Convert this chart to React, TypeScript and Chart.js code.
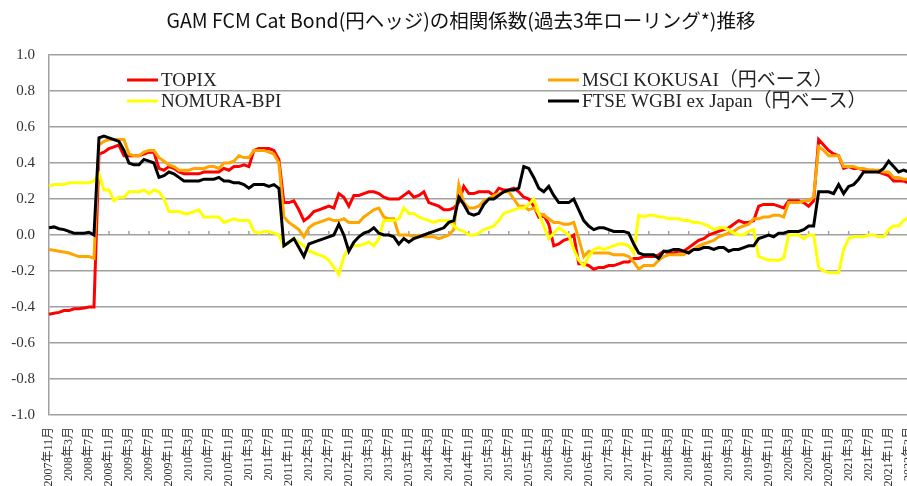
import React, { useEffect, useRef } from "react";
import { Chart, registerables } from "chart.js";
Chart.register(...registerables);

const TITLE = "GAM FCM Cat Bond(円ヘッジ)の相関係数(過去3年ローリング*)推移";
const START_YEAR = 2007;
const START_MONTH = 11;
const N_MONTHS = 173;
const MONTHS: string[] = [];
for (let i = 0; i < N_MONTHS; i++) {
  const m = START_MONTH - 1 + i;
  MONTHS.push(`${START_YEAR + Math.floor(m / 12)}年${(m % 12) + 1}月`);
}
const TICK_EVERY = 4;
const Y_TICKS = [-1.0, -0.8, -0.6, -0.4, -0.2, 0.0, 0.2, 0.4, 0.6, 0.8, 1.0];

const TOPIX = [
  -0.44, -0.435, -0.43, -0.42, -0.42, -0.41, -0.41, -0.405, -0.4, -0.4,
  0.45, 0.46, 0.48, 0.49, 0.5, 0.44, 0.44, 0.44, 0.44, 0.45,
  0.46, 0.46, 0.37, 0.36, 0.38, 0.37, 0.35, 0.34, 0.34, 0.34,
  0.34, 0.35, 0.35, 0.35, 0.35, 0.37, 0.36, 0.38, 0.38, 0.39,
  0.38, 0.47, 0.48, 0.48, 0.48, 0.47, 0.42, 0.18, 0.18, 0.19,
  0.14, 0.08, 0.1, 0.13, 0.14, 0.15, 0.16, 0.15, 0.23, 0.21,
  0.16, 0.22, 0.22, 0.23, 0.24, 0.24, 0.23, 0.21, 0.2, 0.2,
  0.2, 0.22, 0.24, 0.21, 0.22, 0.24, 0.18, 0.17, 0.16, 0.14,
  0.14, 0.15, 0.18, 0.27, 0.23, 0.23, 0.24, 0.24, 0.24, 0.22,
  0.26, 0.25, 0.25, 0.26, 0.24, 0.21, 0.2, 0.16, 0.1, 0.11,
  0.06, -0.06, -0.05, -0.03, -0.02, 0.0, -0.16, -0.16, -0.17, -0.19,
  -0.18, -0.18, -0.17, -0.17, -0.16, -0.15, -0.15, -0.13, -0.13, -0.12,
  -0.12, -0.12, -0.11, -0.09, -0.1, -0.1, -0.09, -0.09, -0.07, -0.05,
  -0.03, -0.02, 0.0, 0.01, 0.02, 0.03, 0.04, 0.06, 0.08, 0.07,
  0.07, 0.08, 0.16, 0.17, 0.17, 0.17, 0.16, 0.15, 0.19, 0.19,
  0.19, 0.18, 0.16, 0.19, 0.53, 0.5, 0.47, 0.45, 0.44, 0.37,
  0.38, 0.37, 0.37, 0.36, 0.36, 0.36, 0.35, 0.34, 0.33, 0.3,
  0.3, 0.3, 0.29,
];

const MSCI = [
  -0.08, -0.085, -0.09, -0.095, -0.1, -0.11, -0.12, -0.12, -0.12, -0.13,
  0.5, 0.52, 0.53, 0.53, 0.53, 0.53, 0.45, 0.44, 0.44, 0.46,
  0.47, 0.47, 0.43, 0.41, 0.39, 0.38, 0.36, 0.36, 0.36, 0.37,
  0.37, 0.37, 0.38, 0.38, 0.37, 0.4, 0.4, 0.41, 0.44, 0.43,
  0.43, 0.47, 0.47, 0.47, 0.46, 0.45, 0.4, 0.1, 0.07, 0.05,
  0.03, -0.01, 0.04, 0.06, 0.07, 0.08, 0.09, 0.08, 0.08, 0.09,
  0.07, 0.07, 0.07, 0.1, 0.12, 0.14, 0.15, 0.1, 0.09, 0.09,
  0.0, 0.0, 0.0, -0.01, 0.0, -0.01, -0.01, -0.01, -0.02, -0.01,
  0.0, 0.03, 0.28, 0.18, 0.15, 0.15, 0.16, 0.19, 0.2, 0.22,
  0.23, 0.24, 0.24, 0.2, 0.16, 0.16, 0.14, 0.15, 0.12, 0.11,
  0.09, 0.07, 0.07, 0.06, 0.06, 0.07, -0.02, -0.12, -0.09, -0.1,
  -0.1, -0.1, -0.1, -0.11, -0.11, -0.11, -0.12, -0.15, -0.19, -0.17,
  -0.17, -0.17, -0.14, -0.12, -0.11, -0.11, -0.11, -0.11, -0.09, -0.08,
  -0.06, -0.05, -0.04, -0.03, -0.01, 0.0, 0.01, 0.02, 0.04, 0.05,
  0.06, 0.09, 0.09, 0.1, 0.1, 0.11, 0.11, 0.1, 0.18, 0.18,
  0.18, 0.19, 0.19, 0.21, 0.49, 0.47, 0.44, 0.44, 0.44, 0.38,
  0.38, 0.38, 0.37, 0.37, 0.36, 0.36, 0.36, 0.35, 0.35, 0.32,
  0.32, 0.31, 0.31,
];

const NOMURA = [
  0.27, 0.28, 0.28, 0.28, 0.29, 0.29, 0.29, 0.29, 0.29, 0.3,
  0.34, 0.25, 0.25, 0.19, 0.21, 0.21, 0.24, 0.24, 0.24, 0.25,
  0.23, 0.25, 0.24, 0.2, 0.13, 0.13, 0.13, 0.12, 0.12, 0.13,
  0.14, 0.1, 0.1, 0.1, 0.1, 0.07, 0.08, 0.09, 0.08, 0.08,
  0.08, 0.02, 0.01, 0.02, 0.02, 0.01, 0.0, -0.06, -0.04, -0.02,
  -0.04, -0.06, -0.09, -0.1, -0.11, -0.12, -0.14, -0.18, -0.22, -0.12,
  -0.07, -0.06, -0.06, -0.05, -0.04, -0.06, -0.02, 0.08, 0.08, 0.08,
  0.09, 0.15, 0.12, 0.12, 0.1, 0.09, 0.08, 0.07, 0.08, 0.08,
  0.08, 0.05, 0.03, 0.02, 0.0, 0.0, 0.01, 0.03, 0.04, 0.05,
  0.08, 0.12, 0.13, 0.14, 0.15, 0.15, 0.17, 0.2, 0.12, 0.05,
  -0.02, 0.01, 0.04, 0.02, 0.0, -0.08, -0.14, -0.17, -0.12, -0.08,
  -0.07, -0.08, -0.07, -0.06, -0.05, -0.05, -0.06, -0.1, 0.11, 0.1,
  0.11, 0.11, 0.1, 0.1, 0.09, 0.09, 0.09, 0.08, 0.08, 0.07,
  0.07, 0.06, 0.05, 0.03, 0.04, 0.04, 0.03, 0.01, 0.0, 0.0,
  0.02, 0.03, -0.12, -0.13, -0.14, -0.14, -0.14, -0.13, 0.0, 0.0,
  0.0, -0.02, 0.0, 0.0, -0.18, -0.2, -0.21, -0.21, -0.21, -0.08,
  -0.02, -0.01, -0.01, -0.01, 0.0, 0.0, -0.01, -0.01, 0.03, 0.05,
  0.05, 0.08, 0.1,
];

const FTSE = [
  0.04, 0.045, 0.035, 0.03, 0.02, 0.01, 0.01, 0.01, 0.015, 0.0,
  0.54, 0.55, 0.54, 0.53, 0.52, 0.47, 0.4, 0.39, 0.39, 0.42,
  0.41, 0.4, 0.32, 0.33, 0.35, 0.34, 0.32, 0.3, 0.3, 0.3,
  0.3, 0.31, 0.31, 0.31, 0.32, 0.3, 0.3, 0.29, 0.29, 0.28,
  0.26, 0.28, 0.28, 0.28, 0.27, 0.28, 0.26, -0.06, -0.04, -0.02,
  -0.07, -0.12, -0.05, -0.04, -0.03, -0.02, -0.01, 0.0, 0.06, 0.0,
  -0.09, -0.04, -0.01, 0.01, 0.02, 0.04, 0.01, 0.0, 0.0, -0.01,
  -0.05, -0.02, -0.04, -0.02, -0.01, 0.0, 0.01, 0.02, 0.03, 0.04,
  0.07, 0.08, 0.21, 0.17, 0.12, 0.11, 0.12, 0.17, 0.2, 0.2,
  0.22, 0.24, 0.25, 0.25, 0.26, 0.38, 0.37, 0.32, 0.26, 0.24,
  0.27, 0.22, 0.18, 0.18, 0.18, 0.2, 0.14, 0.08, 0.05, 0.03,
  0.04, 0.04, 0.03, 0.02, 0.02, 0.02, 0.01, -0.05, -0.1, -0.11,
  -0.11, -0.11, -0.13, -0.09, -0.09, -0.08, -0.08, -0.09, -0.1, -0.08,
  -0.08, -0.07, -0.07, -0.08, -0.07, -0.07, -0.09, -0.08, -0.08, -0.07,
  -0.06, -0.06, -0.02, -0.01, 0.0, -0.01, 0.01, 0.01, 0.02, 0.02,
  0.02, 0.03, 0.05, 0.05, 0.24, 0.24, 0.24, 0.23, 0.28, 0.23,
  0.27, 0.28, 0.31, 0.35, 0.35, 0.35, 0.35, 0.37, 0.41, 0.38,
  0.35, 0.36, 0.35,
];

const SERIES_LABELS = [
  "TOPIX",
  "MSCI KOKUSAI（円ベース）",
  "NOMURA-BPI",
  "FTSE WGBI ex Japan（円ベース）",
];
const SERIES_COLORS = ["#ff0000", "#ffa500", "#ffff00", "#000000"];

const GRID = "#a0a0a0";
const SERIF = '"Liberation Serif", "Noto Sans CJK JP", serif';
Chart.defaults.font.family = SERIF;

export default function App() {
  const ref = useRef<HTMLCanvasElement | null>(null);
  useEffect(() => {
    if (!ref.current) return;
    const extras = {
      id: "extras",
      beforeDatasetsDraw(chart: any) {
        const { ctx, chartArea } = chart;
        const xs = chart.scales.x;
        const ys = chart.scales.y;
        const y0 = ys.getPixelForValue(0);
        ctx.save();
        ctx.strokeStyle = GRID;
        ctx.lineWidth = 1.5;
        ctx.beginPath();
        for (let i = 0; i < MONTHS.length; i += TICK_EVERY) {
          const x = xs.getPixelForValue(i);
          if (x < chartArea.left + 2) continue;
          ctx.moveTo(x, y0);
          ctx.lineTo(x, y0 - 4);
        }
        ctx.stroke();
        ctx.restore();
      },
      afterDraw(chart: any) {
        const { ctx } = chart;
        ctx.save();
        ctx.font = '19.5px "Noto Sans CJK JP", sans-serif';
        ctx.fillStyle = "#111";
        ctx.textAlign = "center";
        ctx.textBaseline = "middle";
        ctx.fillText(TITLE, 461, 21);
        const pos = [
          [127, 80],
          [548, 80],
          [127, 101],
          [548, 101],
        ];
        ctx.font = `19px ${SERIF}`;
        ctx.textAlign = "left";
        chart.data.datasets.forEach((ds: any, i: number) => {
          const [x, y] = pos[i];
          ctx.strokeStyle = ds.borderColor;
          ctx.lineWidth = 3;
          ctx.beginPath();
          ctx.moveTo(x, y);
          ctx.lineTo(x + 31, y);
          ctx.stroke();
          ctx.fillStyle = "#222";
          ctx.fillText(ds.label, x + 34, y + 1);
        });
        ctx.restore();
      },
    };
    const series = [TOPIX, MSCI, NOMURA, FTSE];
    const chart = new Chart(ref.current, {
      type: "line",
      data: {
        labels: MONTHS,
        datasets: series.map((d, i) => ({
          label: SERIES_LABELS[i],
          data: d,
          borderColor: SERIES_COLORS[i],
          backgroundColor: SERIES_COLORS[i],
          borderWidth: 3,
          pointRadius: 0,
          tension: 0,
          fill: false,
          order: 4 - i,
        })),
      },
      options: {
        animation: false,
        responsive: true,
        maintainAspectRatio: false,
        layout: { padding: { top: 55, left: 0, right: 0, bottom: 0 } },
        plugins: {
          legend: { display: false },
          title: { display: false },
          tooltip: { enabled: false },
        },
        scales: {
          x: {
            type: "category",
            grid: { display: false, drawTicks: false },
            border: { display: false },
            ticks: {
              autoSkip: false,
              minRotation: 90,
              maxRotation: 90,
              padding: 12,
              color: "#333",
              font: { family: SERIF, size: 12 },
              callback: function (this: any, v: any, i: number) {
                return i % TICK_EVERY === 0 ? MONTHS[i] : null;
              },
            },
            afterFit: (s: any) => {
              s.height = 71;
            },
          },
          y: {
            min: -1,
            max: 1,
            afterBuildTicks: (s: any) => {
              s.ticks = Y_TICKS.map((v) => ({ value: v }));
            },
            grid: { color: GRID, lineWidth: 1.5, drawTicks: false },
            border: { display: true, color: GRID, width: 1.5 },
            ticks: {
              padding: 14,
              color: "#333",
              font: { family: SERIF, size: 15 },
              callback: (v: any) => Number(v).toFixed(1),
            },
            afterFit: (s: any) => {
              s.width = 49;
            },
          },
        },
      },
      plugins: [extras],
    });
    return () => chart.destroy();
  }, []);
  return (
    <div style={{ position: "absolute", left: 0, top: 0, width: 907, height: 486, overflow: "hidden", background: "#fff" }}>
      <div style={{ position: "relative", width: 935, height: 486 }}>
        <canvas ref={ref} />
      </div>
    </div>
  );
}
